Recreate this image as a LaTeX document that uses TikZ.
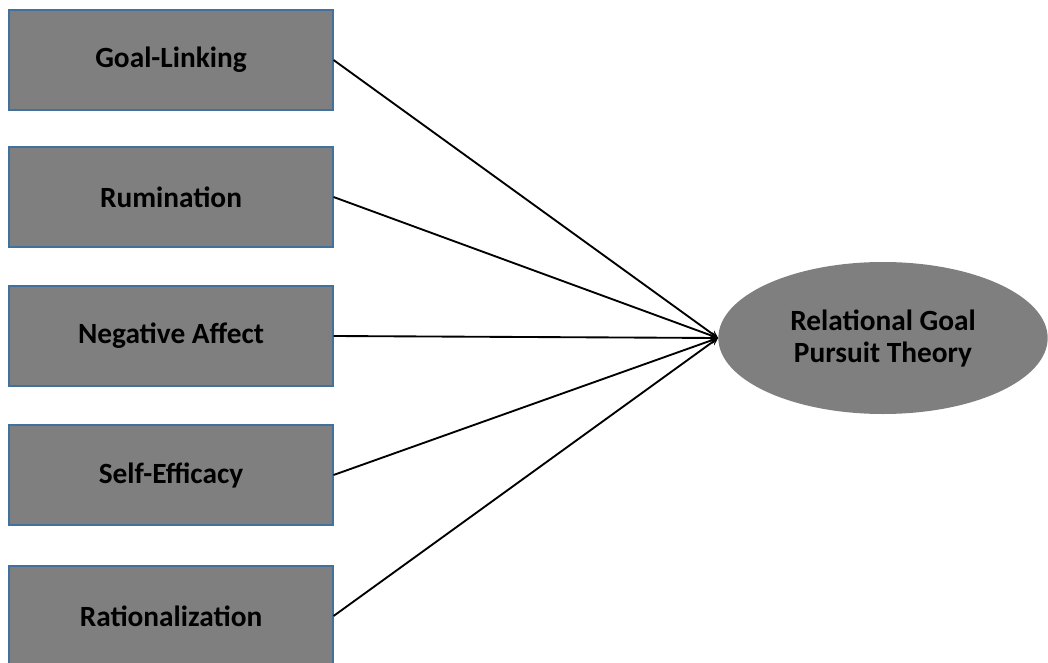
\documentclass[tikz,border=0pt]{standalone}
\usepackage{fontspec}
\setmainfont{Carlito}
\definecolor{boxgray}{HTML}{7F7F7F}
\definecolor{edgeblue}{HTML}{41719C}
\tikzset{
  factor/.style={draw=edgeblue, line width=0.8pt, fill=boxgray, minimum width=243pt,
    minimum height=75pt, font=\fontsize{22}{24}\selectfont\bfseries},
  theory/.style={ellipse, fill=boxgray, minimum width=247pt, minimum height=114pt,
    align=center, font=\fontsize{22}{24}\selectfont\bfseries},
}
\usetikzlibrary{shapes.geometric}
\begin{document}
\begin{tikzpicture}[x=0.75pt, y=-0.75pt, >=stealth]
\clip (0,0) rectangle (1048,663);
\node[factor] (link) at (171,60) {Goal-Linking};
\node[factor] (rum) at (171,197) {Rumination};
\node[factor] (neg) at (171,336) {Negative Affect};
\node[factor] (eff) at (171,475) {Self-Efficacy};
\node[factor] (rat) at (171,616) {Rationalization};
\node[theory] (goal) at (883,338) {Relational Goal\\Pursuit Theory};
\foreach \f in {link,rum,neg,eff,rat}
  \draw[->, line width=1.4pt] (\f.east) -- (goal.west);
\end{tikzpicture}
\end{document}
